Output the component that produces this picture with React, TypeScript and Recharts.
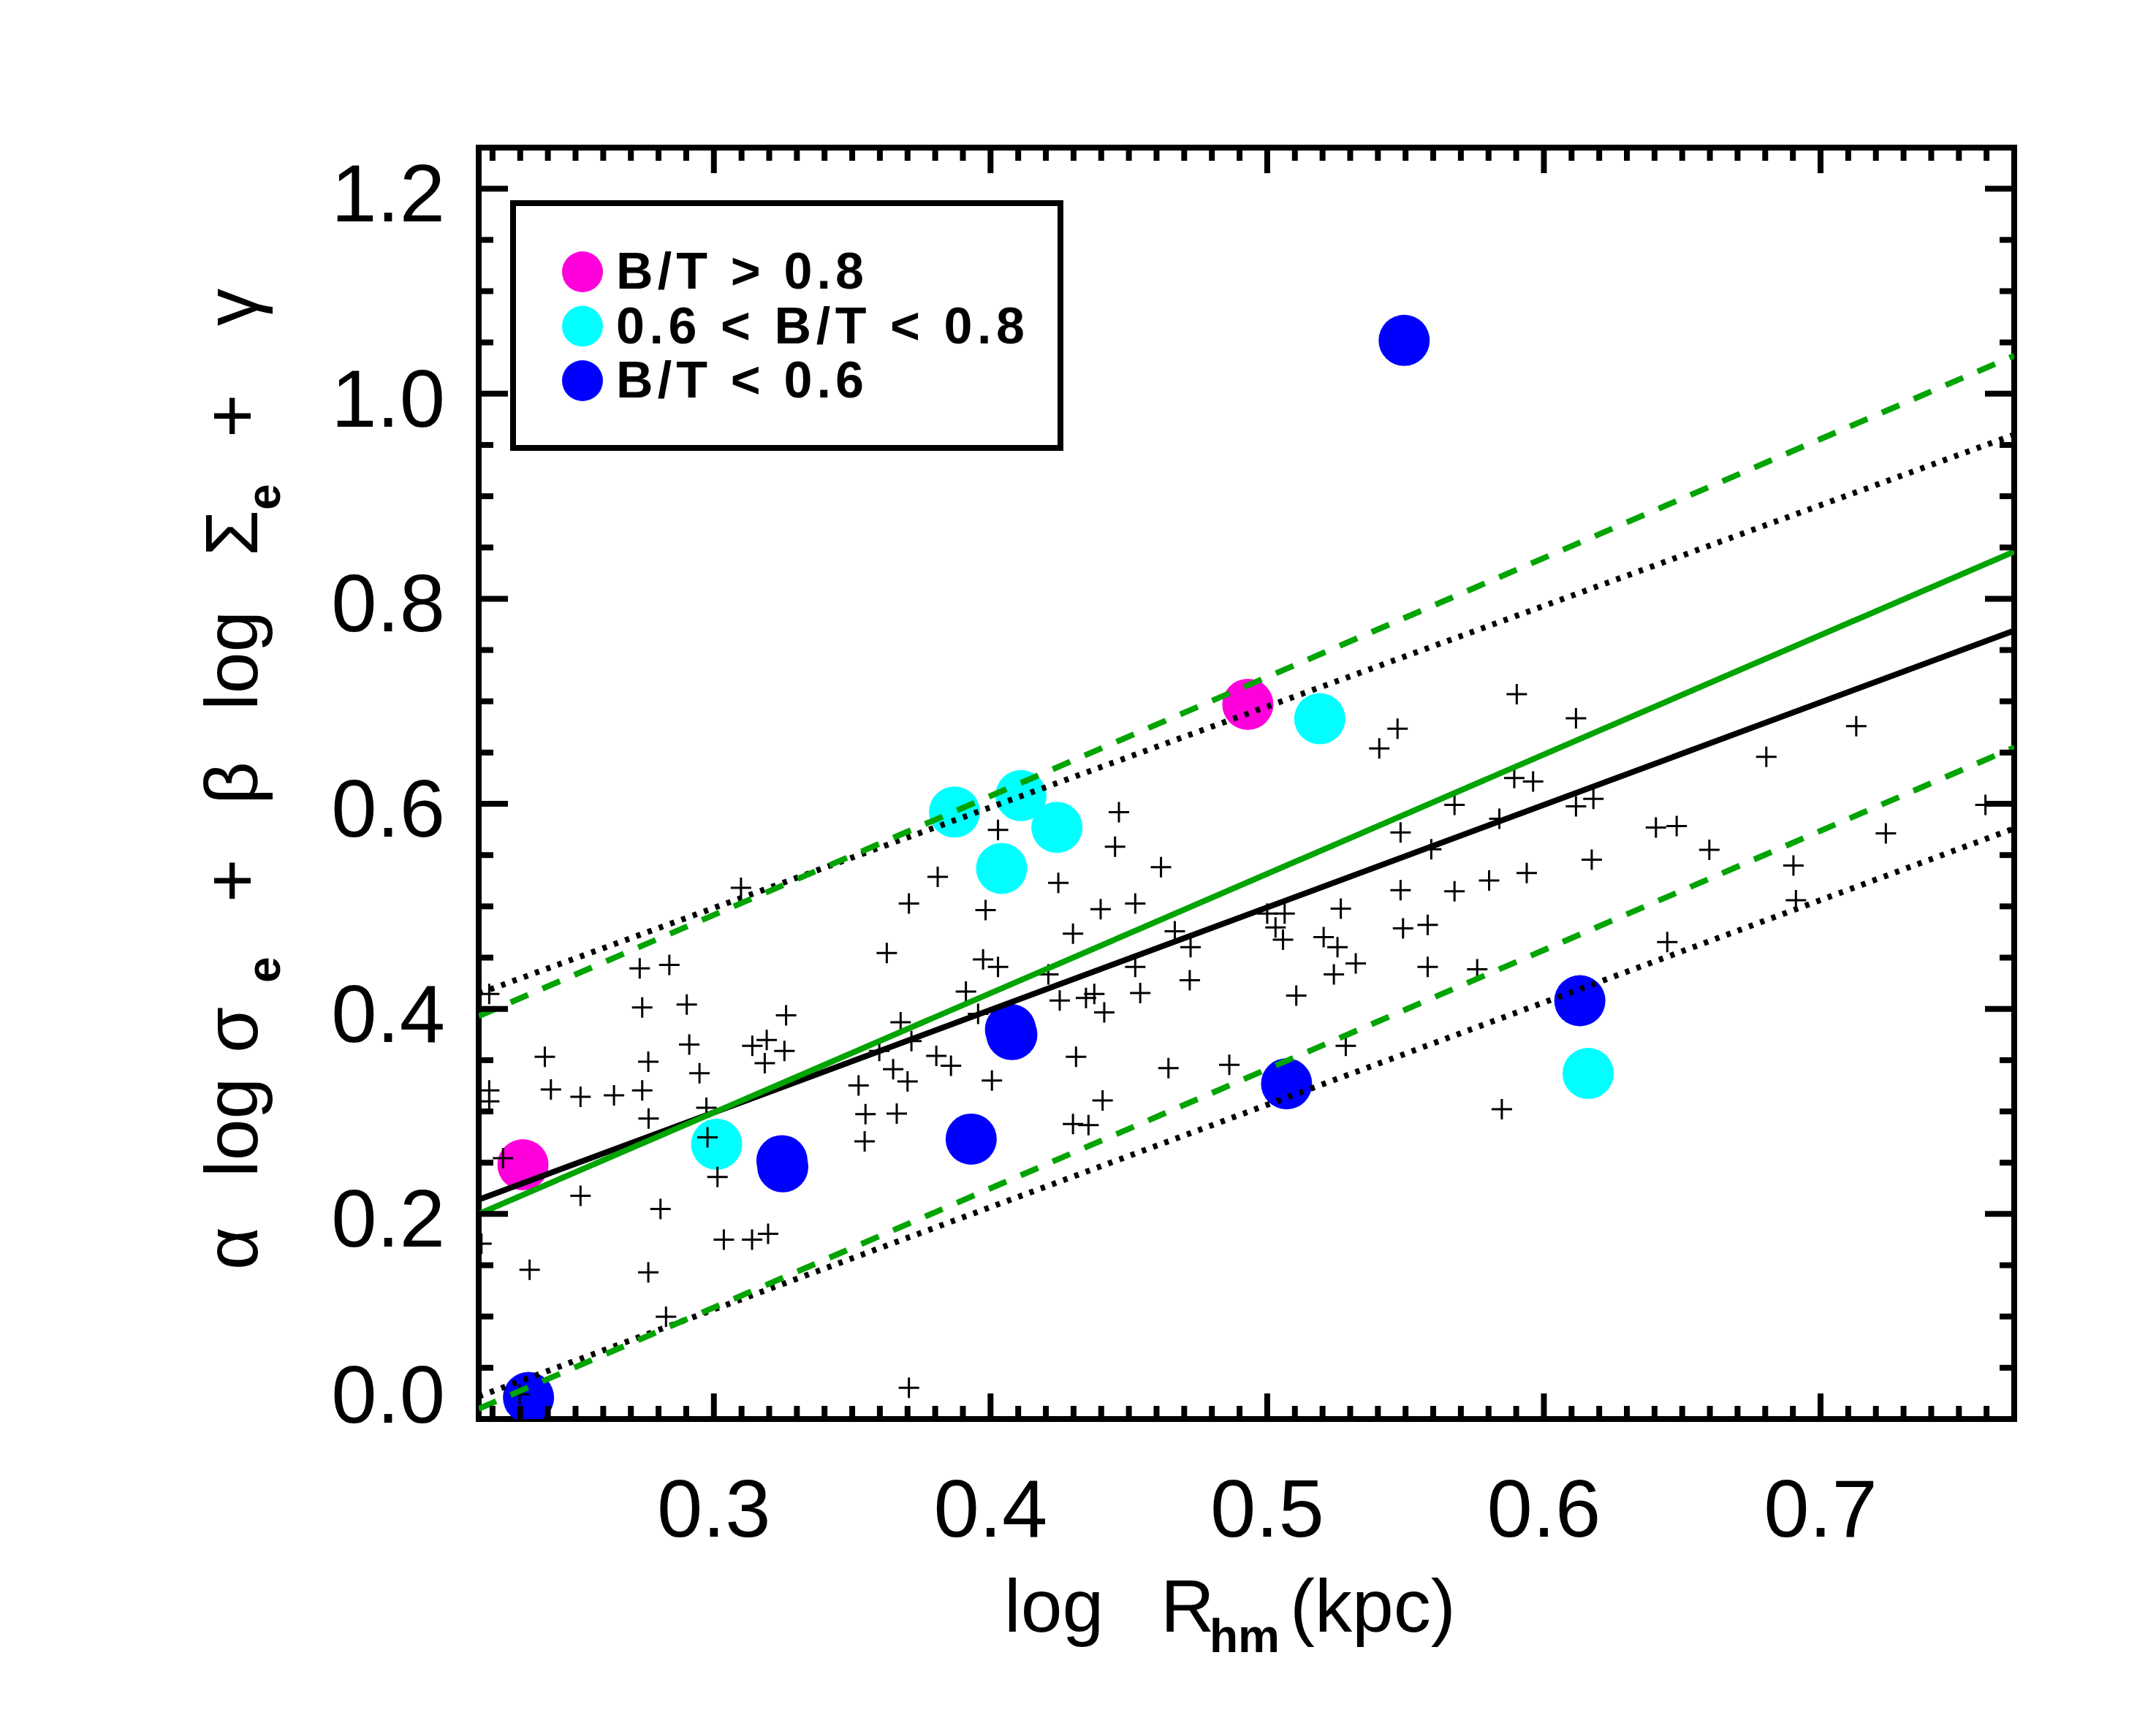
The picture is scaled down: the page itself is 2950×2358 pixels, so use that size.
import { Legend, Scatter, ScatterChart, XAxis, YAxis } from "recharts";

// axis ranges and tick labels
const X_DOMAIN = [0.215, 0.77];
const Y_DOMAIN = [0, 1.24];
const X_LABELS = [0.3, 0.4, 0.5, 0.6, 0.7];
const Y_LABELS = [0, 0.2, 0.4, 0.6, 0.8, 1.0, 1.2];
// minor ticks every 0.01 in x, every 0.05 in y
const X_TICKS = Array.from({ length: 55 }, (_, i) => Math.round(22 + i) / 100);
const Y_TICKS = Array.from({ length: 25 }, (_, i) => (i * 5) / 100);

// bulge-to-total classes
const CLASSES = [
  { name: "B/T > 0.8", color: "#ff00dc" },
  { name: "0.6 < B/T < 0.8", color: "#00ffff" },
  { name: "B/T < 0.6", color: "#0000ff" },
];

const MAGENTA_PTS = [
  { x: 0.231, y: 0.248 },
  { x: 0.493, y: 0.697 },
];

const CYAN_PTS = [
  { x: 0.301, y: 0.268 },
  { x: 0.387, y: 0.592 },
  { x: 0.411, y: 0.608 },
  { x: 0.424, y: 0.577 },
  { x: 0.404, y: 0.537 },
  { x: 0.519, y: 0.683 },
  { x: 0.616, y: 0.337 },
];

const BLUE_PTS = [
  { x: 0.233, y: 0.021 },
  { x: 0.3246, y: 0.252 },
  { x: 0.3249, y: 0.246 },
  { x: 0.393, y: 0.273 },
  { x: 0.4072, y: 0.38 },
  { x: 0.4077, y: 0.375 },
  { x: 0.5495, y: 1.052 },
  { x: 0.507, y: 0.327 },
  { x: 0.613, y: 0.408 },
];

// the rest of the sample, drawn as crosses
const SAMPLE_PTS = [
  { x: 0.2188, y: 0.4145 }, { x: 0.2188, y: 0.3205 }, { x: 0.2188, y: 0.3099 },
  { x: 0.216, y: 0.171 }, { x: 0.2389, y: 0.3533 }, { x: 0.2411, y: 0.3214 },
  { x: 0.2518, y: 0.3142 }, { x: 0.2639, y: 0.3157 }, { x: 0.2741, y: 0.3205 },
  { x: 0.2764, y: 0.293 }, { x: 0.2732, y: 0.4395 }, { x: 0.2839, y: 0.4429 },
  { x: 0.2741, y: 0.4014 }, { x: 0.2902, y: 0.4043 }, { x: 0.2763, y: 0.3484 },
  { x: 0.2911, y: 0.3653 }, { x: 0.2948, y: 0.3373 }, { x: 0.3098, y: 0.5181 },
  { x: 0.3261, y: 0.3937 }, { x: 0.3139, y: 0.3639 }, { x: 0.3191, y: 0.3696 },
  { x: 0.3255, y: 0.359 }, { x: 0.3184, y: 0.347 }, { x: 0.2973, y: 0.3036 },
  { x: 0.2977, y: 0.2747 }, { x: 0.3013, y: 0.2361 }, { x: 0.2238, y: 0.2545 },
  { x: 0.2518, y: 0.2178 }, { x: 0.2807, y: 0.2048 }, { x: 0.3036, y: 0.1749 },
  { x: 0.3138, y: 0.1749 }, { x: 0.3196, y: 0.1807 }, { x: 0.2334, y: 0.1455 },
  { x: 0.2763, y: 0.1431 }, { x: 0.2827, y: 0.0998 }, { x: 0.2298, y: 0.0241 },
  { x: 0.3705, y: 0.0304 }, { x: 0.3523, y: 0.3253 }, { x: 0.3548, y: 0.2973 },
  { x: 0.3545, y: 0.2708 }, { x: 0.3661, y: 0.2978 }, { x: 0.3648, y: 0.3412 },
  { x: 0.37, y: 0.3292 }, { x: 0.3675, y: 0.387 }, { x: 0.3714, y: 0.3687 },
  { x: 0.3598, y: 0.359 }, { x: 0.3625, y: 0.4545 }, { x: 0.3705, y: 0.5027 },
  { x: 0.3809, y: 0.5287 }, { x: 0.3804, y: 0.3542 }, { x: 0.3857, y: 0.3446 },
  { x: 0.3911, y: 0.4169 }, { x: 0.3955, y: 0.3952 }, { x: 0.3982, y: 0.4964 },
  { x: 0.3973, y: 0.4482 }, { x: 0.4027, y: 0.441 }, { x: 0.4027, y: 0.5745 },
  { x: 0.4005, y: 0.3301 }, { x: 0.4245, y: 0.5229 }, { x: 0.4298, y: 0.4733 },
  { x: 0.4209, y: 0.4337 }, { x: 0.425, y: 0.4082 }, { x: 0.4345, y: 0.4106 },
  { x: 0.4375, y: 0.4145 }, { x: 0.4411, y: 0.3966 }, { x: 0.4398, y: 0.4973 },
  { x: 0.4464, y: 0.5918 }, { x: 0.445, y: 0.5581 }, { x: 0.4523, y: 0.5027 },
  { x: 0.4616, y: 0.5383 }, { x: 0.4666, y: 0.4757 }, { x: 0.4723, y: 0.4602 },
  { x: 0.472, y: 0.428 }, { x: 0.4523, y: 0.441 }, { x: 0.4541, y: 0.4154 },
  { x: 0.4309, y: 0.3533 }, { x: 0.4405, y: 0.3108 }, { x: 0.4298, y: 0.2877 },
  { x: 0.4354, y: 0.2867 }, { x: 0.4643, y: 0.3422 }, { x: 0.4863, y: 0.3455 },
  { x: 0.5902, y: 0.707 }, { x: 0.6116, y: 0.6834 }, { x: 0.5471, y: 0.6733 },
  { x: 0.5405, y: 0.654 }, { x: 0.7129, y: 0.6757 }, { x: 0.6804, y: 0.6458 },
  { x: 0.5893, y: 0.6251 }, { x: 0.5961, y: 0.6217 }, { x: 0.5677, y: 0.599 },
  { x: 0.5839, y: 0.5855 }, { x: 0.6116, y: 0.5976 }, { x: 0.6179, y: 0.6048 },
  { x: 0.5482, y: 0.572 }, { x: 0.5593, y: 0.5557 }, { x: 0.6405, y: 0.5769 },
  { x: 0.648, y: 0.5783 }, { x: 0.6598, y: 0.5552 }, { x: 0.6173, y: 0.5455 },
  { x: 0.7236, y: 0.5711 }, { x: 0.7596, y: 0.599 }, { x: 0.5482, y: 0.5157 },
  { x: 0.5677, y: 0.5147 }, { x: 0.5802, y: 0.5253 }, { x: 0.5938, y: 0.5325 },
  { x: 0.6902, y: 0.5398 }, { x: 0.6911, y: 0.506 }, { x: 0.5, y: 0.493 },
  { x: 0.5063, y: 0.493 }, { x: 0.503, y: 0.4795 }, { x: 0.5057, y: 0.4675 },
  { x: 0.5266, y: 0.4978 }, { x: 0.5204, y: 0.4699 }, { x: 0.5254, y: 0.4602 },
  { x: 0.532, y: 0.4443 }, { x: 0.5241, y: 0.4337 }, { x: 0.5491, y: 0.4786 },
  { x: 0.558, y: 0.4819 }, { x: 0.558, y: 0.441 }, { x: 0.5759, y: 0.4386 },
  { x: 0.5105, y: 0.413 }, { x: 0.6446, y: 0.4651 }, { x: 0.5284, y: 0.3639 },
  { x: 0.5848, y: 0.3022 },
];

// fitted relations (end points at the plot edges)
const FIT_ALL = [{ x: 0.215, y: 0.214 }, { x: 0.77, y: 0.769 }];
const FIT_ALL_HI = [{ x: 0.215, y: 0.415 }, { x: 0.77, y: 0.96 }];
const FIT_ALL_LO = [{ x: 0.215, y: 0.022 }, { x: 0.77, y: 0.576 }];
const FIT_BULGE = [{ x: 0.215, y: 0.2 }, { x: 0.77, y: 0.846 }];
const FIT_BULGE_HI = [{ x: 0.215, y: 0.393 }, { x: 0.77, y: 1.037 }];
const FIT_BULGE_LO = [{ x: 0.215, y: 0.01 }, { x: 0.77, y: 0.655 }];

const GREEN = "#00a400";
const FONT = "'Liberation Sans', Arial, sans-serif";
const AXIS_LINE = { stroke: "#000", strokeWidth: 8, strokeLinecap: "square" as const };
const DOTTED = "6 10.4";
const DASHED = "26 21.5";

const isOn = (list: number[], v: number) => list.some((t) => Math.abs(t - v) < 1e-6);

const XTick = ({ x, y, payload, side }: any) => {
  const major = isOn(X_LABELS, payload.value);
  const len = major ? 35 : 18;
  const dir = side === "top" ? 1 : -1;
  return (
    <g>
      <line x1={x} y1={y} x2={x} y2={y + dir * len} stroke="#000" strokeWidth={8} />
      {major && side !== "top" && (
        <text x={x} y={y + 161} textAnchor="middle" fontFamily={FONT} fontSize={112} fill="#000">
          {payload.value.toFixed(1)}
        </text>
      )}
    </g>
  );
};

const YTick = ({ x, y, payload, side }: any) => {
  const v = payload.value;
  const major = isOn(Y_LABELS, v);
  const len = major ? 40 : 20;
  const dir = side === "right" ? -1 : 1;
  return (
    <g>
      {v > 0 && <line x1={x} y1={y} x2={x + dir * len} y2={y} stroke="#000" strokeWidth={8} />}
      {major && side !== "right" && (
        <text x={x - 46} y={v === 0 ? y + 5 : y + 45} textAnchor="end" fontFamily={FONT} fontSize={112} fill="#000">
          {v.toFixed(1)}
        </text>
      )}
    </g>
  );
};

const XTitle = () => (
  <text y={2233} fontFamily={FONT} fontSize={102} fill="#000">
    <tspan x={1374}>log</tspan>
    <tspan x={1588}>R</tspan>
    <tspan x={1655} dy={28} fontSize={64} fontWeight="bold">hm</tspan>
    <tspan x={1765} dy={-28}>(kpc)</tspan>
  </text>
);

const YTitle = () => (
  <g transform="translate(352 1738) rotate(-90)">
    <text y={0} fontFamily={FONT} fontSize={102} fill="#000">
      <tspan x={0}>α</tspan>
      <tspan x={127}>log</tspan>
      <tspan x={297}>σ</tspan>
      <tspan x={393} dy={31} fontSize={64} fontWeight="bold">e</tspan>
      <tspan x={503} dy={-31}>+</tspan>
      <tspan x={637}>β</tspan>
      <tspan x={766}>log</tspan>
      <tspan x={977}>Σ</tspan>
      <tspan x={1040} dy={31} fontSize={64} fontWeight="bold">e</tspan>
      <tspan x={1139} dy={-31}>+</tspan>
      <tspan x={1292}>γ</tspan>
    </text>
  </g>
);

const LEGEND_WIDTHS = [339, 559, 339];

const LegendBox = ({ payload }: any) => {
  const items = CLASSES.map((c) => {
    const hit = (payload || []).find((p: any) => p.value === c.name);
    return { name: c.name, color: hit?.color || c.color };
  });
  return (
    <svg width={770} height={352}>
      <rect x={8} y={8} width={749} height={335} fill="#fff" stroke="#000" strokeWidth={8} />
      {items.map((it, i) => (
        <g key={it.name}>
          <circle cx={103} cy={102 + i * 74.5} r={28} fill={it.color} />
          <text
            x={149}
            y={125 + i * 74.5}
            fontFamily={FONT}
            fontWeight="bold"
            fontSize={70}
            textLength={LEGEND_WIDTHS[i]}
            lengthAdjust="spacing"
            fill="#000"
          >
            {it.name}
          </text>
        </g>
      ))}
    </svg>
  );
};

const Dot = ({ cx, cy, fill }: any) => <circle cx={cx} cy={cy} r={35} fill={fill} />;

const Cross = ({ cx, cy }: any) => (
  <path d={`M${cx - 14},${cy}H${cx + 14}M${cx},${cy - 14}V${cy + 14}`} stroke="#000" strokeWidth={3} fill="none" />
);

const Nothing = () => <g />;

const fit = (key: string, data: { x: number; y: number }[], stroke: string, dash?: string) => (
  <Scatter
    key={key}
    xAxisId="b"
    yAxisId="l"
    data={data}
    fill="none"
    stroke={stroke}
    strokeWidth={8}
    strokeDasharray={dash}
    line={{ stroke, strokeWidth: 8, strokeDasharray: dash, fill: "none" }}
    shape={Nothing}
    legendType="none"
    isAnimationActive={false}
  />
);

const App = () => {
  const ax = { xAxisId: "b", yAxisId: "l" };
  return (
    <div style={{ position: "absolute", left: 0, top: 0, width: 2950, height: 2358, background: "#fff" }}>
      <ScatterChart width={2950} height={2358} margin={{ top: 197, right: 189, bottom: 411, left: 650 }}>
        <XAxis
          xAxisId="b"
          type="number"
          dataKey="x"
          domain={X_DOMAIN}
          ticks={X_TICKS}
          interval={0}
          allowDataOverflow
          height={5}
          tickSize={0}
          tickMargin={0}
          tickLine={false}
          axisLine={AXIS_LINE}
          tick={(p: any) => <XTick {...p} side="bottom" />}
          label={<XTitle />}
        />
        <XAxis
          xAxisId="t"
          orientation="top"
          type="number"
          dataKey="x"
          domain={X_DOMAIN}
          ticks={X_TICKS}
          interval={0}
          allowDataOverflow
          height={5}
          tickSize={0}
          tickMargin={0}
          tickLine={false}
          axisLine={AXIS_LINE}
          tick={(p: any) => <XTick {...p} side="top" />}
        />
        <YAxis
          yAxisId="l"
          type="number"
          dataKey="y"
          domain={Y_DOMAIN}
          ticks={Y_TICKS}
          interval={0}
          allowDataOverflow
          width={5}
          tickSize={0}
          tickMargin={0}
          tickLine={false}
          axisLine={AXIS_LINE}
          tick={(p: any) => <YTick {...p} side="left" />}
          label={<YTitle />}
        />
        <YAxis
          yAxisId="r"
          orientation="right"
          type="number"
          dataKey="y"
          domain={Y_DOMAIN}
          ticks={Y_TICKS}
          interval={0}
          allowDataOverflow
          width={5}
          tickSize={0}
          tickMargin={0}
          tickLine={false}
          axisLine={AXIS_LINE}
          tick={(p: any) => <YTick {...p} side="right" />}
        />
        <Legend
          layout="vertical"
          align="center"
          verticalAlign="middle"
          wrapperStyle={{ position: "absolute", left: 694, top: 270, width: 770, height: 352 }}
          content={(p: any) => <LegendBox {...p} />}
        />

        <Scatter {...ax} name={CLASSES[0].name} data={MAGENTA_PTS} fill={CLASSES[0].color} shape={Dot} legendType="circle" isAnimationActive={false} />
        <Scatter {...ax} name={CLASSES[1].name} data={CYAN_PTS} fill={CLASSES[1].color} shape={Dot} legendType="circle" isAnimationActive={false} />
        <Scatter {...ax} name={CLASSES[2].name} data={BLUE_PTS} fill={CLASSES[2].color} shape={Dot} legendType="circle" isAnimationActive={false} />
        <Scatter {...ax} name="sample" data={SAMPLE_PTS} fill="#000" shape={Cross} legendType="none" isAnimationActive={false} />

        {fit("all", FIT_ALL, "#000")}
        {fit("allHi", FIT_ALL_HI, "#000", DOTTED)}
        {fit("allLo", FIT_ALL_LO, "#000", DOTTED)}
        {fit("bulge", FIT_BULGE, GREEN)}
        {fit("bulgeHi", FIT_BULGE_HI, GREEN, DASHED)}
        {fit("bulgeLo", FIT_BULGE_LO, GREEN, DASHED)}
      </ScatterChart>
    </div>
  );
};

export default App;
